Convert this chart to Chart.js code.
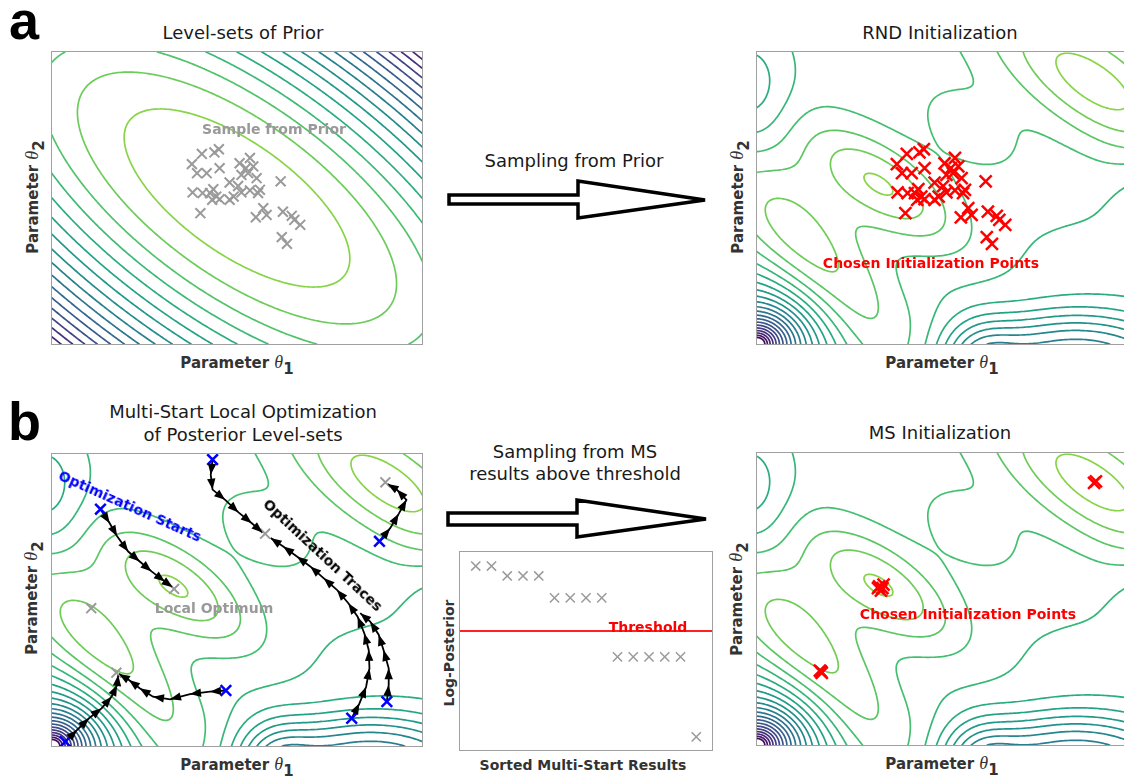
<!DOCTYPE html>
<html>
<head>
<meta charset="utf-8">
<script src="https://cdn.jsdelivr.net/npm/chart.js@4.4.0/dist/chart.umd.min.js"></script>
<style>
  body { margin: 0; background: #fff; }
  #fig { position: relative; width: 1124px; height: 778px; overflow: hidden; font-family: 'DejaVu Sans', Verdana, sans-serif; color: #1a1a1a; }
  #fig canvas { position: absolute; }
  .t { position: absolute; white-space: nowrap; line-height: 18px; transform: translate(-50%, -50%); }
  .ttl { font-size: 18px; }
  .ax { position: absolute; white-space: nowrap; font-size: 15px; line-height: 15px; font-weight: bold; color: #333; }
  .ax i { font-family: 'Liberation Serif', serif; font-weight: normal; font-size: 18px; }
  .ax span { position: relative; top: 6px; font-size: 15px; }
  .note { position: absolute; white-space: nowrap; font-size: 14px; line-height: 14px; font-weight: bold; }
  .panel { position: absolute; font-family: 'Liberation Sans', Arial, sans-serif; font-weight: bold; font-size: 54px; line-height: 54px; color: #000; }
</style>
</head>
<body>
<div id="fig">
  <svg width="1124" height="778" style="position:absolute;left:0;top:0">
    <polygon points="449,195 578,195 578,181 705,200 578,218 578,204 449,204" fill="#fff" stroke="#000" stroke-width="3.5"/>
    <polygon points="448,513 577,513 577,500 706,519 577,537 577,525 448,525" fill="#fff" stroke="#000" stroke-width="3.5"/>
  </svg>

  <canvas id="prior" width="374" height="296" style="left:50px;top:50px"></canvas>
  <canvas id="rnd" width="374" height="296" style="left:755px;top:50px"></canvas>
  <canvas id="msopt" width="374" height="296" style="left:50px;top:452px"></canvas>
  <canvas id="sorted" width="256" height="202" style="left:458px;top:550px"></canvas>
  <canvas id="msinit" width="374" height="296" style="left:755px;top:451px"></canvas>

  <div class="panel" style="left:9px;top:-7px">a</div>
  <div class="panel" style="left:8px;top:394px">b</div>

  <div class="t ttl" style="left:243px;top:33px">Level-sets of Prior</div>
  <div class="t ttl" style="left:940px;top:33px">RND Initialization</div>
  <div class="t ttl" style="left:243px;top:412px">Multi-Start Local Optimization</div>
  <div class="t ttl" style="left:243px;top:435px">of Posterior Level-sets</div>
  <div class="t ttl" style="left:940px;top:433px">MS Initialization</div>
  <div class="t ttl" style="left:574px;top:161px">Sampling from Prior</div>
  <div class="t ttl" style="left:575px;top:452px">Sampling from MS</div>
  <div class="t ttl" style="left:575px;top:474px">results above threshold</div>

  <div class="ax" style="left:237px;top:355px;transform:translateX(-50%)">Parameter <i>θ</i><span>1</span></div>
  <div class="ax" style="left:942px;top:355px;transform:translateX(-50%)">Parameter <i>θ</i><span>1</span></div>
  <div class="ax" style="left:237px;top:757px;transform:translateX(-50%)">Parameter <i>θ</i><span>1</span></div>
  <div class="ax" style="left:942px;top:756px;transform:translateX(-50%)">Parameter <i>θ</i><span>1</span></div>
  <div class="ax" style="left:33px;top:197px;transform:translate(-50%,-50%) rotate(-90deg)">Parameter <i>θ</i><span>2</span></div>
  <div class="ax" style="left:738px;top:197px;transform:translate(-50%,-50%) rotate(-90deg)">Parameter <i>θ</i><span>2</span></div>
  <div class="ax" style="left:32px;top:598px;transform:translate(-50%,-50%) rotate(-90deg)">Parameter <i>θ</i><span>2</span></div>
  <div class="ax" style="left:737px;top:599px;transform:translate(-50%,-50%) rotate(-90deg)">Parameter <i>θ</i><span>2</span></div>
  <div class="ax" style="left:583px;top:758px;font-size:14px;transform:translateX(-50%)">Sorted Multi-Start Results</div>
  <div class="ax" style="left:449px;top:653px;font-size:14px;transform:translate(-50%,-50%) rotate(-90deg)">Log-Posterior</div>

  <div class="note" style="left:274px;top:129px;color:#999;transform:translate(-50%,-50%)">Sample from Prior</div>
  <div class="note" style="left:931px;top:263px;color:#f00;transform:translate(-50%,-50%)">Chosen Initialization Points</div>
  <div class="note" style="left:968px;top:614px;color:#f00;transform:translate(-50%,-50%)">Chosen Initialization Points</div>
  <div class="note" style="left:214px;top:608px;color:#999;transform:translate(-50%,-50%)">Local Optimum</div>
  <div class="note" style="left:130px;top:506px;color:#00f;transform:translate(-50%,-50%) rotate(24deg)">Optimization Starts</div>
  <div class="note" style="left:323px;top:555px;color:#000;transform:translate(-50%,-50%) rotate(43deg)">Optimization Traces</div>
  <div class="note" style="left:648px;top:627px;color:#f00;transform:translate(-50%,-50%)">Threshold</div>
</div>

<script>
// ---------- data (axes run 0..1 inside each box) ----------
// prior: quadratic form around the centre, level sets at Q = 1, 2, 3 ...
const priorCenter = [0.5, 0.5];
const priorCoef = [20, 13.6];          // a (u^2 + v^2) + 2 b u v
const priorLevels = [1, 2, 3, 4, 5, 6, 7, 8, 9, 10, 11, 12, 13, 14, 15, 16, 17];

// samples drawn from the prior (same points in both top panels)
const sampleX = [0.405, 0.439, 0.451, 0.378, 0.392, 0.418, 0.453, 0.507, 0.535, 0.524,
                 0.544, 0.530, 0.512, 0.480, 0.553, 0.618, 0.380, 0.407, 0.436, 0.444,
                 0.433, 0.453, 0.480, 0.491, 0.512, 0.535, 0.562, 0.557, 0.401, 0.571,
                 0.580, 0.551, 0.624, 0.648, 0.655, 0.671, 0.621, 0.635, 0.503, 0.427];
const sampleY = [0.651, 0.656, 0.667, 0.616, 0.585, 0.585, 0.602, 0.619, 0.637, 0.602,
                 0.608, 0.585, 0.579, 0.553, 0.568, 0.557, 0.519, 0.517, 0.530, 0.505,
                 0.494, 0.496, 0.494, 0.505, 0.519, 0.526, 0.528, 0.517, 0.448, 0.465,
                 0.442, 0.434, 0.453, 0.439, 0.425, 0.408, 0.366, 0.343, 0.541, 0.517];

// posterior landscape: bumps (positive = high posterior), troughs, and a pit in the lower-left corner
//                 A      B      D      C      trough  valley  deep   top-left  right edge
const bumpX     = [0.336, 0.16,  0.582, 0.91,  1.00,   0.85,   0.60,  -0.02,    1.06];
const bumpY     = [0.543, 0.28,  0.726, 0.895, -0.05,  -0.10,  -0.05, 0.86,     0.50];
const bumpH     = [3.7,   4.0,   1.0,   4.0,   -1.3,   -6.5,   -3.0,  -2.2,     -1.0];
const bumpS1    = [0.21,  0.34,  0.15,  0.30,  0.45,   0.28,   0.09,  0.10,     0.08];
const bumpS2    = [0.09,  0.12,  0.085, 0.12,  0.35,   0.14,   0.10,  0.16,     0.12];
const bumpAngle = [-35,   -50,   -36,   -35,   0,      0,      0,     0,        0];
const bumpPow   = [1,     1,     1,     1,     1,      1.5,    1,     1,        1];
const baseLevel = 0;
const cornerDepth = -20;
const cornerScale = 0.12;
const cornerStretch = 1.2;
const postLevels = [-16.5, -15.5, -14.5, -13.5, -12.5, -11.5, -10.5, -9.5, -8.5, -7.5, -6.5,
                    -5.5, -4.5, -3.5, -2.5, -1.5, -0.5, 0.5, 1.5, 2.5, 3.5];

// multi-start optimisation: start points, local optima, traces
const startX = [0.131, 0.434, 0.885, 0.470, 0.036, 0.810, 0.905];
const startY = [0.811, 0.981, 0.701, 0.190, 0.015, 0.095, 0.152];
const optimumX = [0.576, 0.901, 0.330, 0.106, 0.174];
const optimumY = [0.727, 0.903, 0.538, 0.472, 0.251];
const traceXs = [
  [0.131, 0.156, 0.176, 0.206, 0.237, 0.269, 0.305, 0.326],
  [0.434, 0.429, 0.434, 0.468, 0.504, 0.540, 0.569],
  [0.885, 0.914, 0.937, 0.958, 0.932, 0.907],
  [0.470, 0.427, 0.373, 0.319, 0.273, 0.237, 0.208, 0.181],
  [0.036, 0.068, 0.100, 0.134, 0.161, 0.176, 0.179],
  [0.810, 0.831, 0.849, 0.858, 0.856, 0.844, 0.826, 0.801, 0.770, 0.734, 0.698, 0.662, 0.625, 0.591],
  [0.905, 0.910, 0.910, 0.896, 0.883, 0.860, 0.833]
];
const traceYs = [
  [0.811, 0.763, 0.718, 0.666, 0.632, 0.598, 0.563, 0.544],
  [0.981, 0.929, 0.878, 0.843, 0.800, 0.763, 0.731],
  [0.701, 0.746, 0.795, 0.843, 0.878, 0.897],
  [0.190, 0.186, 0.178, 0.160, 0.169, 0.198, 0.226, 0.247],
  [0.015, 0.055, 0.095, 0.129, 0.169, 0.209, 0.243],
  [0.095, 0.146, 0.203, 0.266, 0.329, 0.386, 0.443, 0.489, 0.535, 0.575, 0.615, 0.649, 0.683, 0.712],
  [0.152, 0.209, 0.266, 0.329, 0.381, 0.426, 0.455]
];

// sorted multi-start results
const msRank = [1, 2, 3, 4, 5, 6, 7, 8, 9, 10, 11, 12, 13, 14, 15];
const msLogPost = [0.929, 0.929, 0.879, 0.879, 0.879, 0.768, 0.768, 0.768, 0.768,
                   0.470, 0.470, 0.470, 0.470, 0.470, 0.066];
const threshold = 0.601;

// points chosen from the MS results
const chosenX = [0.330, 0.339, 0.335, 0.342, 0.327, 0.173, 0.170, 0.175, 0.916, 0.911];
const chosenY = [0.543, 0.537, 0.529, 0.549, 0.537, 0.251, 0.255, 0.247, 0.903, 0.898];

// ---------- helpers ----------
const viridisStops = ['#440154', '#482475', '#414487', '#355f8d', '#2a788e', '#21918c',
                      '#22a884', '#44bf70', '#7ad151', '#bddf26', '#fde725'];
function viridis(t) {
  t = Math.max(0, Math.min(1, t)) * (viridisStops.length - 1);
  const i = Math.min(Math.floor(t), viridisStops.length - 2), f = t - i;
  const a = viridisStops[i], b = viridisStops[i + 1];
  const c = k => Math.round(parseInt(a.substr(k, 2), 16) * (1 - f) + parseInt(b.substr(k, 2), 16) * f);
  return 'rgb(' + c(1) + ',' + c(3) + ',' + c(5) + ')';
}

const ASPECT = 370 / 292;

function priorField(x, y) {
  const u = x - priorCenter[0], v = y - priorCenter[1];
  return priorCoef[0] * (u * u + v * v) + 2 * priorCoef[1] * u * v;
}
function priorColor(q) { return viridis(0.82 * (1 - (q - 1) / 17)); }

function posteriorField(x, y) {
  const X = x * ASPECT;
  let f = baseLevel;
  for (let k = 0; k < bumpX.length; k++) {
    const dx = X - bumpX[k] * ASPECT, dy = y - bumpY[k];
    const th = bumpAngle[k] * Math.PI / 180;
    const d1 = dx * Math.cos(th) + dy * Math.sin(th);
    const d2 = -dx * Math.sin(th) + dy * Math.cos(th);
    const q = (d1 / bumpS1[k]) ** 2 + (d2 / bumpS2[k]) ** 2;
    f += bumpH[k] * Math.exp(-Math.pow(q / 2, bumpPow[k]));
  }
  f += cornerDepth * Math.exp(-Math.hypot(X / cornerStretch, y) / cornerScale);
  return f;
}
function postColor(l) { return viridis(0.82 * (l + 17) / 20.5); }

// marching squares on a grid over the axes, drawn through the chart scales
function contourPlugin(field, levels, colorOf) {
  return {
    id: 'contours',
    beforeDatasetsDraw(chart) {
      const { ctx, chartArea: a, scales: { x: sx, y: sy } } = chart;
      const nx = 170, ny = 136;
      const g = [];
      for (let j = 0; j <= ny; j++) {
        const row = new Float64Array(nx + 1);
        for (let i = 0; i <= nx; i++) row[i] = field(i / nx, j / ny);
        g.push(row);
      }
      const X = t => sx.getPixelForValue(t / nx), Y = t => sy.getPixelForValue(t / ny);
      ctx.save();
      ctx.beginPath(); ctx.rect(a.left, a.top, a.width, a.height); ctx.clip();
      ctx.lineWidth = 1.7; ctx.lineCap = 'round'; ctx.lineJoin = 'round';
      for (const lv of levels) {
        ctx.strokeStyle = colorOf(lv);
        ctx.beginPath();
        const seg = (p, q) => { ctx.moveTo(p[0], p[1]); ctx.lineTo(q[0], q[1]); };
        for (let j = 0; j < ny; j++) {
          for (let i = 0; i < nx; i++) {
            const v0 = g[j][i], v1 = g[j][i + 1], v2 = g[j + 1][i + 1], v3 = g[j + 1][i];
            const b0 = v0 > lv, b1 = v1 > lv, b2 = v2 > lv, b3 = v3 > lv;
            if (b0 === b1 && b1 === b2 && b2 === b3) continue;
            const e = [];
            if (b0 !== b1) e.push([X(i + (lv - v0) / (v1 - v0)), Y(j)]);
            if (b1 !== b2) e.push([X(i + 1), Y(j + (lv - v1) / (v2 - v1))]);
            if (b3 !== b2) e.push([X(i + (lv - v3) / (v2 - v3)), Y(j + 1)]);
            if (b0 !== b3) e.push([X(i), Y(j + (lv - v0) / (v3 - v0))]);
            if (e.length === 2) seg(e[0], e[1]);
            else if (e.length === 4) {
              const mid = (v0 + v1 + v2 + v3) / 4 > lv;
              if (mid === b0) { seg(e[0], e[1]); seg(e[2], e[3]); }
              else { seg(e[0], e[3]); seg(e[1], e[2]); }
            }
          }
        }
        ctx.stroke();
      }
      ctx.restore();
    }
  };
}

const boxPlugin = {
  id: 'box',
  afterDraw(chart) {
    const { ctx, chartArea: a } = chart;
    ctx.save();
    ctx.strokeStyle = '#a0a0a0';
    ctx.lineWidth = 1;
    ctx.strokeRect(a.left - 0.5, a.top - 0.5, a.width + 1, a.height + 1);
    ctx.restore();
  }
};

const arrowPlugin = {
  id: 'arrowheads',
  afterDatasetsDraw(chart) {
    const ctx = chart.ctx;
    ctx.save();
    ctx.fillStyle = '#000';
    chart.data.datasets.forEach((ds, k) => {
      if (!ds.arrows) return;
      const pts = chart.getDatasetMeta(k).data;
      for (let i = 1; i < pts.length; i++) {
        const p = pts[i], q = pts[i - 1];
        const ang = Math.atan2(p.y - q.y, p.x - q.x);
        const L = 11, W = 4.2;
        ctx.beginPath();
        ctx.moveTo(p.x, p.y);
        ctx.lineTo(p.x - L * Math.cos(ang) + W * Math.sin(ang), p.y - L * Math.sin(ang) - W * Math.cos(ang));
        ctx.lineTo(p.x - L * Math.cos(ang) - W * Math.sin(ang), p.y - L * Math.sin(ang) + W * Math.cos(ang));
        ctx.closePath();
        ctx.fill();
      }
    });
    ctx.restore();
  }
};

function xy(xs, ys) { return xs.map((x, i) => ({ x: x, y: ys[i] })); }

function crosses(xs, ys, color, r, w, order) {
  return {
    type: 'scatter', data: xy(xs, ys), order: order || 0,
    pointStyle: 'crossRot', pointRadius: r, pointHoverRadius: r,
    pointBorderColor: color, pointBorderWidth: w, borderColor: color, backgroundColor: color
  };
}

function options(xmax) {
  return {
    responsive: false, animation: false, devicePixelRatio: 1, events: [],
    layout: { padding: 2, autoPadding: false },
    plugins: { legend: { display: false }, tooltip: { enabled: false }, title: { display: false } },
    scales: {
      x: { type: 'linear', min: 0, max: xmax || 1, display: false },
      y: { type: 'linear', min: 0, max: 1, display: false }
    }
  };
}

// ---------- charts ----------
new Chart(document.getElementById('prior'), {
  type: 'scatter',
  data: { datasets: [crosses(sampleX, sampleY, '#9a9a9a', 7, 2)] },
  options: options(),
  plugins: [contourPlugin(priorField, priorLevels, priorColor), boxPlugin]
});

new Chart(document.getElementById('rnd'), {
  type: 'scatter',
  data: { datasets: [crosses(sampleX, sampleY, '#ff0000', 8.5, 2.5)] },
  options: options(),
  plugins: [contourPlugin(posteriorField, postLevels, postColor), boxPlugin]
});

const traceSets = traceXs.map((xs, k) => ({
  type: 'line', data: xy(xs, traceYs[k]), order: 2, arrows: true,
  borderColor: '#000', borderWidth: 1.8, pointRadius: 0, fill: false, tension: 0
}));
new Chart(document.getElementById('msopt'), {
  type: 'scatter',
  data: {
    datasets: [
      crosses(startX, startY, '#0000ff', 7.5, 2.5, 0),
      crosses(optimumX, optimumY, '#9a9a9a', 7, 2, 1)
    ].concat(traceSets)
  },
  options: options(),
  plugins: [contourPlugin(posteriorField, postLevels, postColor), arrowPlugin, boxPlugin]
});

new Chart(document.getElementById('sorted'), {
  type: 'scatter',
  data: {
    datasets: [
      crosses(msRank, msLogPost, '#9a9a9a', 6.5, 1.5, 0),
      { type: 'line', data: [{ x: 0, y: threshold }, { x: 16, y: threshold }], order: 1,
        borderColor: '#f22', borderWidth: 2, pointRadius: 0 }
    ]
  },
  options: options(16),
  plugins: [boxPlugin]
});

new Chart(document.getElementById('msinit'), {
  type: 'scatter',
  data: { datasets: [crosses(chosenX, chosenY, '#ff0000', 8.5, 2.5)] },
  options: options(),
  plugins: [contourPlugin(posteriorField, postLevels, postColor), boxPlugin]
});
</script>
</body>
</html>
